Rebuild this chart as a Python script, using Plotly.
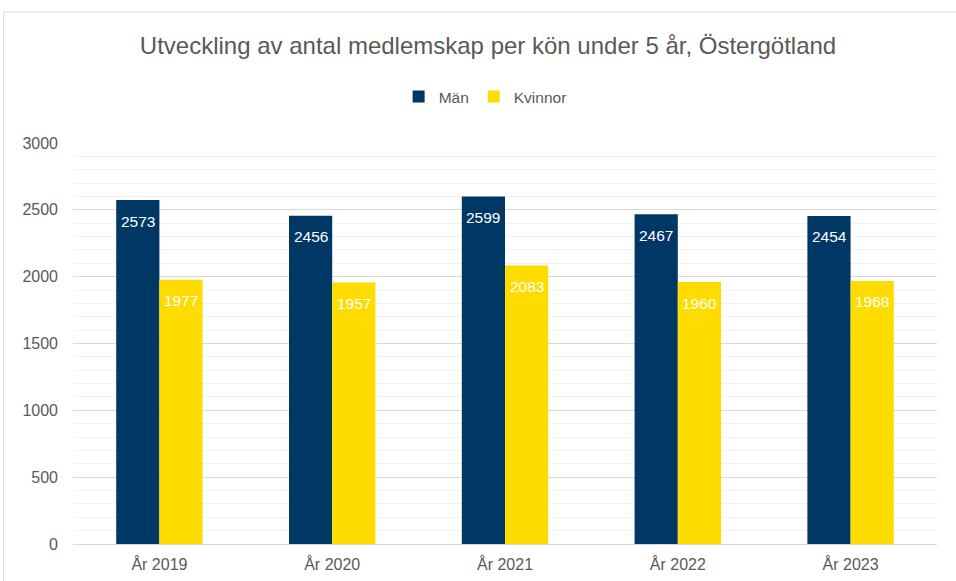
import plotly.graph_objects as go

categories = ["År 2019", "År 2020", "År 2021", "År 2022", "År 2023"]
man = [2573, 2456, 2599, 2467, 2454]
kvinnor = [1977, 1957, 2083, 1960, 1968]
y_ticks = [0, 500, 1000, 1500, 2000, 2500, 3000]

FONT = "Liberation Sans, Arial, sans-serif"
GREY = "#595959"

W, H = 956, 581
L, R, T, B = 73, 19, 143, 37
ph = H - T - B
pw = W - L - R
BARGAP = 0.5
bar_w = pw / len(categories) * (1 - BARGAP) / 2


def bar(name, values, color):
    return go.Bar(
        x=categories, y=values, name=name, marker=dict(color=color, line=dict(width=0)),
        hoverinfo="x+y+name",
    )


fig = go.Figure()
fig.add_trace(bar("Män", man, "#003865"))
fig.add_trace(bar("Kvinnor", kvinnor, "#FFDC00"))

# data labels near the top of each bar
for values, side in ((man, -1), (kvinnor, 1)):
    for c, v in zip(categories, values):
        fig.add_annotation(x=c, y=v, text=str(v), showarrow=False,
                           xshift=side * bar_w / 2, yshift=-21, yanchor="middle",
                           xanchor="center",
                           font=dict(color="white", size=15.5, family=FONT))

fig.update_layout(
    width=W, height=H,
    margin=dict(l=L, r=R, t=T, b=B),
    paper_bgcolor="white", plot_bgcolor="white",
    font=dict(family=FONT, color=GREY, size=16),
    barmode="group", bargap=BARGAP, bargroupgap=0,
    title=dict(text="Utveckling av antal medlemskap per kön under 5 år, Östergötland",
               x=488 / W, xanchor="center", y=1 - 46 / H, yanchor="middle",
               font=dict(size=24, color=GREY, family=FONT)),
    legend=dict(orientation="h", x=0.477, xanchor="center", y=(544 - 97) / ph,
                yanchor="middle", font=dict(size=15.5, color=GREY, family=FONT),
                itemwidth=30, traceorder="normal", bgcolor="rgba(0,0,0,0)"),
    showlegend=True,
    xaxis=dict(showgrid=False, showline=True, linecolor="#d9d9d9", linewidth=1,
               ticks="", ticklabelstandoff=6, automargin=False,
               tickfont=dict(size=16, color=GREY, family=FONT), fixedrange=True),
    yaxis=dict(range=[0, 3000], tickvals=y_ticks, ticktext=[str(v) for v in y_ticks],
               showgrid=True, gridcolor="#d9d9d9", gridwidth=1, zeroline=False,
               showline=False, ticks="", ticklabelstandoff=14,
               tickfont=dict(size=16, color=GREY, family=FONT),
               minor=dict(dtick=100, showgrid=True, gridcolor="#f2f2f2", gridwidth=1, ticks=""),
               automargin=False, fixedrange=True),
)

# chart border
x0 = (3.5 - L) / pw
y1 = (H - B - 12) / ph
fig.add_shape(type="rect", xref="paper", yref="paper", x0=x0, x1=2.0, y0=-1.0, y1=y1,
              line=dict(color="#d9d9d9", width=1), fillcolor="rgba(0,0,0,0)", layer="below")

fig.write_html("out.html", config={"displayModeBar": False},
               post_script="document.body.style.margin='0';document.body.style.overflow='hidden';")
